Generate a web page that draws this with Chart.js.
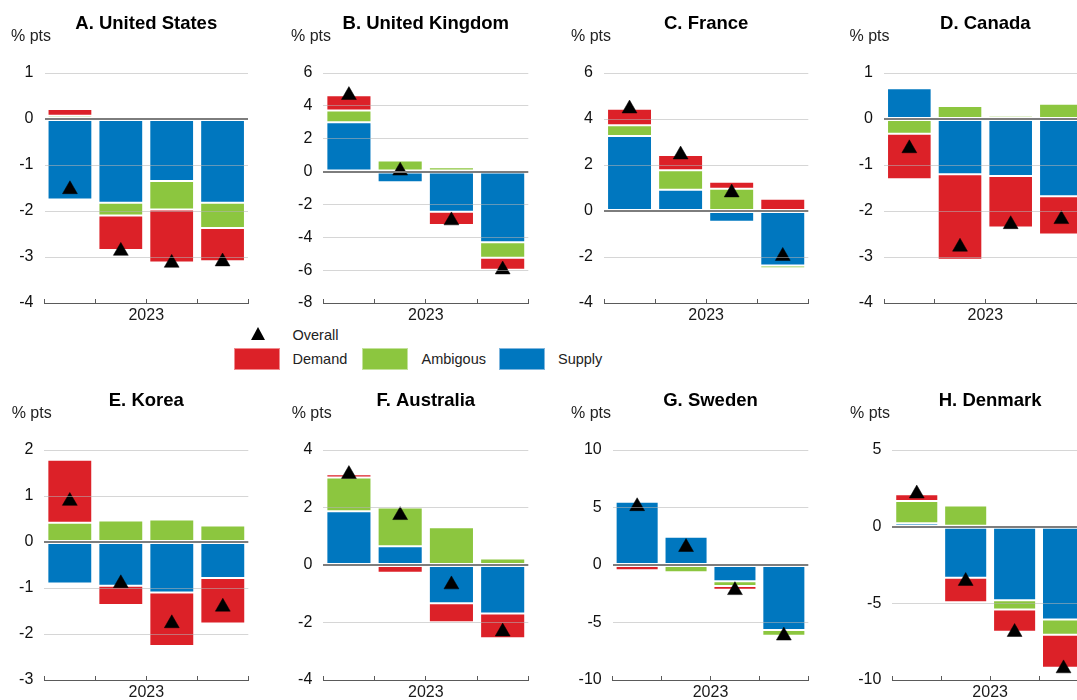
<!DOCTYPE html>
<html><head><meta charset="utf-8">
<script src="https://cdn.jsdelivr.net/npm/chart.js@4.4.1/dist/chart.umd.min.js"></script>
<style>
html,body{margin:0;padding:0;width:1077px;height:700px;overflow:hidden;background:#fff;font-family:'Liberation Sans',Arial,sans-serif;}
.pane{position:absolute;}
.lg{position:absolute;font-size:14.5px;color:#222;line-height:1;white-space:nowrap;}
.sw{position:absolute;width:46px;height:22px;box-sizing:border-box;}
.tri{position:absolute;width:0;height:0;border-left:7.5px solid transparent;border-right:7.5px solid transparent;border-bottom:13px solid #000;}
</style></head><body>
<div id="charts"></div>
<div id="legend">
  <div class="tri" style="left:250.5px;top:327px;"></div>
  <div class="lg" style="left:292.5px;top:328px;">Overall</div>
  <div class="sw" style="left:234px;top:347.5px;background:#DC2128;border:1px solid #f08a8e;"></div>
  <div class="lg" style="left:292.5px;top:351.5px;">Demand</div>
  <div class="sw" style="left:362px;top:347.5px;background:#8CC63F;border:1px solid #c3e29b;"></div>
  <div class="lg" style="left:421.5px;top:351.5px;">Ambigous</div>
  <div class="sw" style="left:499px;top:347.5px;background:#0077BF;border:1px solid #7fb6de;"></div>
  <div class="lg" style="left:558px;top:351.5px;">Supply</div>
</div>
<script>
// ---- data (percentage points), four quarters of 2023 ----
const categories = ['2023 Q1', '2023 Q2', '2023 Q3', '2023 Q4'];
const yearLabel = '2023';
const unitLabel = '% pts';

const usSupply    = [-1.75, -1.82, -1.35, -1.82];
const usAmbiguous = [ 0.07, -0.28, -0.62, -0.55];
const usDemand    = [ 0.15, -0.75, -1.15, -0.72];
const usOverall   = [-1.53, -2.87, -3.13, -3.10];

const ukSupply    = [ 3.00, -0.65, -2.45, -4.30];
const ukAmbiguous = [ 0.72,  0.68,  0.27, -0.95];
const ukDemand    = [ 0.93,  0.02, -0.80, -0.72];
const ukOverall   = [ 4.65,  0.05, -2.98, -5.97];

const frSupply    = [ 3.26,  0.92, -0.47, -2.37];
const frAmbiguous = [ 0.47,  0.85,  0.97, -0.12];
const frDemand    = [ 0.72,  0.67,  0.30,  0.53];
const frOverall   = [ 4.45,  2.45,  0.80, -1.96];

const caSupply    = [ 0.67, -1.20, -1.24, -1.68];
const caAmbiguous = [-0.32,  0.28,  0.07,  0.33];
const caDemand    = [-0.99, -1.86, -1.12, -0.83];
const caOverall   = [-0.64, -2.78, -2.29, -2.18];

const krSupply    = [-0.90, -0.95, -1.10, -0.78];
const krAmbiguous = [ 0.42,  0.47,  0.49,  0.36];
const krDemand    = [ 1.37, -0.42, -1.16, -0.99];
const krOverall   = [ 0.89, -0.90, -1.77, -1.41];

const auSupply    = [ 1.87,  0.65, -1.33, -1.69];
const auAmbiguous = [ 1.17,  1.35,  1.31,  0.23];
const auDemand    = [ 0.12, -0.27, -0.66, -0.86];
const auOverall   = [ 3.16,  1.73, -0.68, -2.32];

const seSupply    = [ 5.50,  2.45, -1.42, -5.65];
const seAmbiguous = [ 0.00, -0.62, -0.40, -0.50];
const seDemand    = [-0.45, -0.12, -0.33,  0.00];
const seOverall   = [ 5.10,  1.55, -2.20, -6.15];

const dkSupply    = [ 0.22, -3.33, -4.80, -6.05];
const dkAmbiguous = [ 1.45,  1.38, -0.60, -1.00];
const dkDemand    = [ 0.45, -1.60, -1.45, -2.15];
const dkOverall   = [ 2.15, -3.55, -6.88, -9.25];

const titles = ['A. United States','B. United Kingdom','C. France','D. Canada','E. Korea','F. Australia','G. Sweden','H. Denmark'];
const yRanges = [[-4,1,1],[-8,6,2],[-4,6,2],[-4,1,1],[-3,2,1],[-4,4,2],[-10,10,5],[-10,5,5]];
const seriesNames = ['Supply','Ambigous','Demand','Overall'];

// ---- styles / layout ----
const COLORS = {supply:'#0077BF', ambiguous:'#8CC63F', demand:'#DC2128', overall:'#000000'};
const panelData = [
  [usSupply, usAmbiguous, usDemand, usOverall],
  [ukSupply, ukAmbiguous, ukDemand, ukOverall],
  [frSupply, frAmbiguous, frDemand, frOverall],
  [caSupply, caAmbiguous, caDemand, caOverall],
  [krSupply, krAmbiguous, krDemand, krOverall],
  [auSupply, auAmbiguous, auDemand, auOverall],
  [seSupply, seAmbiguous, seDemand, seOverall],
  [dkSupply, dkAmbiguous, dkDemand, dkOverall]
];
// subtitle x, plot left, plot right, row top
const geom = [
  [11.0, 44.5, 248.0, 0], [291.0, 323.3, 528.3, 0], [571.0, 604.0, 808.3, 0], [849.5, 884.0, 1086.7, 0],
  [11.7, 44.3, 248.3, 377], [291.7, 323.3, 528.3, 377], [571.0, 612.7, 808.3, 377], [850.0, 892.3, 1088.0, 377]
];
const CANVAS_H = 324;
const FONT = "'Liberation Sans', Arial, sans-serif";
Chart.defaults.font.family = FONT;
Chart.defaults.color = '#1a1a1a';
Chart.defaults.animation = false;

const holder = document.getElementById('charts');
panelData.forEach((d, i) => {
  const [sx, L, R, top] = geom[i];
  const cl = Math.floor(sx);
  const pl = sx - cl;
  const yW = L - sx;
  const boxRight = R - cl + yW;
  const W = Math.ceil(boxRight);
  const pr = W - boxRight;
  const div = document.createElement('div');
  div.className = 'pane';
  div.style.left = cl + 'px';
  div.style.top = top + 'px';
  div.style.width = W + 'px';
  div.style.height = CANVAS_H + 'px';
  const cv = document.createElement('canvas');
  div.appendChild(cv);
  holder.appendChild(div);
  const [ymin, ymax, ystep] = yRanges[i];
  const barBase = {type:'bar', order:1, borderWidth:1, borderColor:'rgba(255,255,255,0.75)', borderSkipped:false,
                   barPercentage:0.88, categoryPercentage:1.0, stack:'parts'};
  new Chart(cv, {
    data: {
      labels: categories,
      datasets: [
        Object.assign({}, barBase, {label: seriesNames[0], data: d[0], backgroundColor: COLORS.supply}),
        Object.assign({}, barBase, {label: seriesNames[1], data: d[1], backgroundColor: COLORS.ambiguous}),
        Object.assign({}, barBase, {label: seriesNames[2], data: d[2], backgroundColor: COLORS.demand}),
        {type:'line', label: seriesNames[3], data: d[3], order:0, stack:'overall', showLine:false,
         pointStyle:'triangle', pointRadius:8.6, pointHoverRadius:8.6, pointBorderWidth:0.5,
         pointBackgroundColor: COLORS.overall, pointBorderColor: COLORS.overall}
      ]
    },
    options: {
      responsive: true, maintainAspectRatio: false, animation: false,
      layout: {padding: {left: pl, right: pr, top: 0, bottom: 0}},
      plugins: {
        legend: {display: false},
        tooltip: {enabled: false},
        title: {display: true, text: titles[i], align: 'center', color: '#000',
                font: {size: 18.5, weight: 'bold', lineHeight: 1}, padding: {top: 14.35, bottom: 0}},
        subtitle: {display: true, text: unitLabel, align: 'start', color: '#222',
                   font: {size: 16, lineHeight: 0.45}, padding: {top: 0, bottom: 32.95}}
      },
      scales: {
        x: {
          type: 'category', offset: true, stacked: true,
          ticks: {display: false},
          grid: {display: true, drawOnChartArea: false, drawTicks: true, tickLength: -4, color: '#5a5a5a', offset: true},
          border: {display: true, color: '#5a5a5a', width: 1},
          title: {display: true, text: yearLabel, color: '#1a1a1a', font: {size: 16, lineHeight: 1}, padding: {top: 9, bottom: 0}}
        },
        y: {
          position: 'left', stacked: true, min: ymin, max: ymax,
          ticks: {stepSize: ystep, padding: 11, color: '#111', font: {size: 16}},
          grid: {
            z: 1, drawTicks: false,
            color: c => (c.tick && c.tick.value === 0) ? '#7d7d7d' : ((c.tick && c.tick.value === ymin) ? 'rgba(0,0,0,0)' : 'rgba(180,180,180,0.55)'),
            lineWidth: c => (c.tick && c.tick.value === 0) ? 2 : 1
          },
          border: {display: false},
          afterFit: s => { s.width = yW; }
        },
        yPad: {
          position: 'right', min: ymin, max: ymax, display: true,
          ticks: {display: false}, grid: {display: false, drawTicks: false}, border: {display: false},
          afterFit: s => { s.width = yW; }
        }
      }
    }
  });
});
</script>
</body></html>
